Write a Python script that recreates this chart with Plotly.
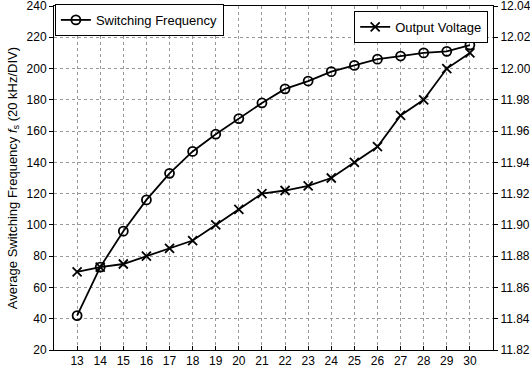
import plotly.graph_objects as go

load_x = list(range(13, 31))
switching_freq = [42, 73, 96, 116, 133, 147, 158, 168, 178, 187, 192, 198, 202, 206, 208, 210, 211, 215]
output_voltage = [11.870, 11.873, 11.875, 11.880, 11.885, 11.890, 11.900, 11.910, 11.920, 11.922,
                  11.925, 11.930, 11.940, 11.950, 11.970, 11.980, 12.000, 12.010]
left_ticks = list(range(20, 241, 20))
right_ticks = [11.82, 11.84, 11.86, 11.88, 11.90, 11.92, 11.94, 11.96, 11.98, 12.00, 12.02, 12.04]

FONT = "Liberation Sans, Arial, sans-serif"

fig = go.Figure()
fig.add_trace(go.Scatter(
    x=load_x, y=switching_freq, name="Switching Frequency", mode="lines+markers",
    line=dict(color="black", width=1.8),
    marker=dict(symbol="circle-open", size=9, color="black", line=dict(width=1.8)),
    legend="legend", yaxis="y", showlegend=True))
fig.add_trace(go.Scatter(
    x=load_x, y=output_voltage, name="Output Voltage", mode="lines+markers",
    line=dict(color="black", width=1.8),
    marker=dict(symbol="x-thin-open", size=9, color="black", line=dict(width=1.8, color="black")),
    legend="legend2", yaxis="y2", showlegend=True))

fig.update_layout(
    width=530, height=367,
    margin=dict(l=54, r=37, t=5, b=17),
    paper_bgcolor="white", plot_bgcolor="white",
    font=dict(family=FONT, size=12, color="black"),
    showlegend=True,
    xaxis=dict(range=[12, 31], tickvals=load_x, showline=True, linecolor="black", linewidth=1,
               mirror=True, ticks="inside", ticklen=4, tickcolor="black", automargin=False,
               showgrid=True, gridcolor="#999", griddash="dot", gridwidth=1, zeroline=False,
               tickfont=dict(size=12), ticklabeloverflow="allow"),
    yaxis=dict(range=[20, 240], tickvals=left_ticks, showline=True, linecolor="black", linewidth=1,
               ticks="outside", ticklen=4, tickcolor="black", automargin=False,
               showgrid=True, gridcolor="#999", griddash="dot", gridwidth=1, zeroline=False,
               title=dict(text="Average Switching Frequency <i>f</i><sub>s</sub> (20 kHz/DIV)",
                          font=dict(size=13), standoff=6),
               tickfont=dict(size=12), ticklabeloverflow="allow"),
    yaxis2=dict(range=[11.82, 12.04], tickvals=right_ticks, tickformat=".2f", overlaying="y", side="right",
                showline=True, linecolor="black", linewidth=1, ticks="outside", ticklen=4,
                tickcolor="black", showgrid=False, zeroline=False, automargin=False,
                tickfont=dict(size=12), ticklabeloverflow="allow"),
    legend=dict(x=0.002, y=1.003, xanchor="left", yanchor="top", bgcolor="white",
                bordercolor="black", borderwidth=1, font=dict(size=13), itemwidth=30,
                tracegroupgap=0),
    legend2=dict(x=0.989, y=0.983, xanchor="right", yanchor="top", bgcolor="white",
                 bordercolor="black", borderwidth=1, font=dict(size=13), itemwidth=30),
)

fig.write_html("out.html", post_script="document.body.style.margin='0';",
               config={"displayModeBar": False})
